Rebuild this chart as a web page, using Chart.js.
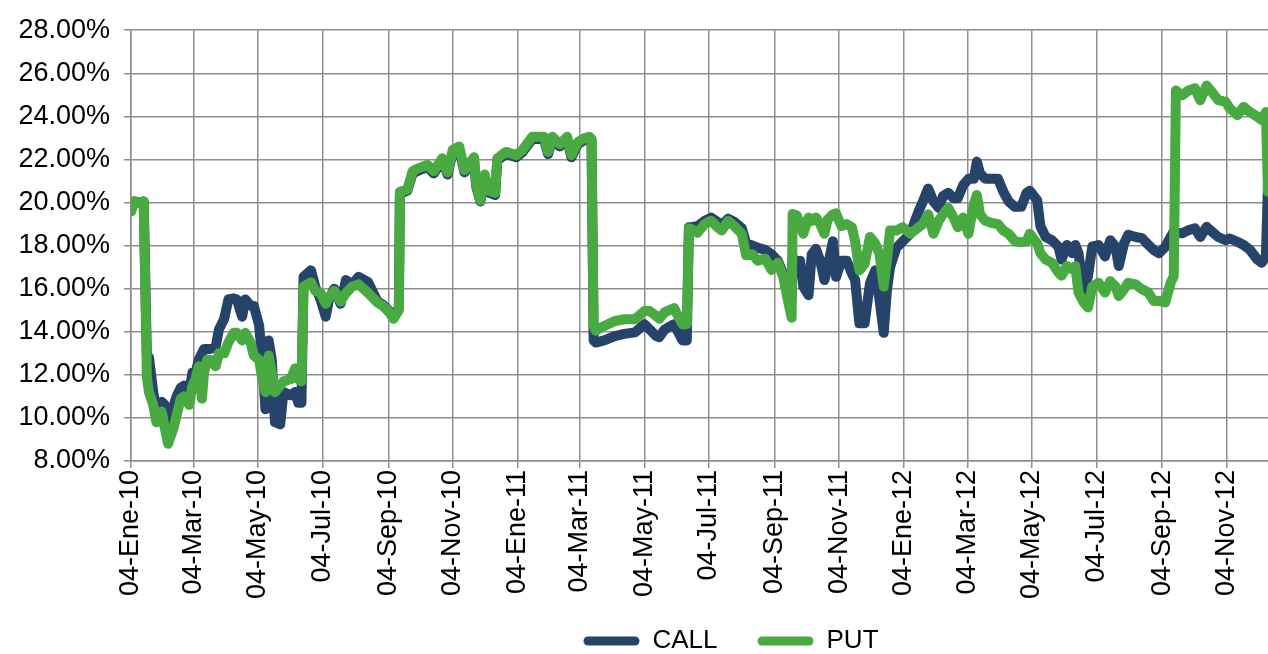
<!DOCTYPE html>
<html lang="es">
<head>
<meta charset="utf-8">
<title>CALL / PUT</title>
<script src="https://cdn.jsdelivr.net/npm/chart.js@4.4.1/dist/chart.umd.min.js"></script>
<style>
  html, body { margin: 0; padding: 0; background: #fff; }
  #grafico { display: block; }
</style>
</head>
<body>
<canvas id="grafico" width="1268" height="654"></canvas>
<script>
// ========================
// DATOS
// ========================
// días transcurridos desde el 04-Ene-10
const dias = [
  0, 3, 8, 12, 15, 17, 21, 24, 29, 32,
  35, 40, 43, 47, 50, 55, 58, 61, 64, 67,
  69, 72, 75, 80, 83, 88, 92, 97, 100, 105,
  108, 113, 116, 121, 124, 127, 130, 133, 136, 141,
  144, 151, 155, 158, 161, 163, 170, 174, 179, 184,
  187, 192, 198, 203, 209,
  215, 224, 233, 238, 244, 248, 253, 254, 261, 266,
  272, 280, 286, 294, 299, 304, 310, 315, 324, 326,
  330, 334, 338, 344, 346, 354, 364, 370, 379, 390,
  394, 398, 405, 412, 416, 422,
  428, 433, 435, 437, 439, 447, 457, 466, 476, 485,
  490, 496, 499, 504, 513, 517, 521, 525, 527, 529,
  535, 542, 548, 554, 558, 564, 570, 577, 581, 587,
  592, 599, 605, 611, 616, 621, 624, 625, 629,
  632, 635, 640, 643, 647, 651, 655, 658, 663, 666,
  671, 676, 681, 684, 688, 693, 698, 703, 707, 711,
  714, 717, 723, 729, 736, 744, 748, 753, 758, 763,
  767, 772, 777, 781, 786, 791, 796, 799, 802, 807,
  813, 819, 824, 829, 835, 841, 846,
  849, 856, 859, 864, 870, 876, 879, 884, 889, 892,
  895, 900, 904, 908, 914, 920, 925, 930, 933, 938,
  942, 949, 955, 961, 966, 971, 977, 982, 985, 987,
  993, 999, 1005, 1010, 1016, 1021, 1027, 1034, 1038, 1045,
  1051, 1057, 1064, 1068, 1072, 1074
];

// volatilidad CALL (%)
const volCall = [
  19.6, 20.05, 20.0, 20.05, 12.9, 12.8, 11.2, 10.3, 10.75, 10.6,
  9.1, 10.5, 11.0, 11.4, 11.5, 11.2, 12.1, 12.1, 12.7, 13.0,
  13.2, 13.2, 13.2, 13.3, 14.1, 14.6, 15.5, 15.55, 15.5, 14.7,
  15.5, 15.2, 15.2, 14.3, 12.7, 10.4, 13.6, 12.7, 9.8, 9.7,
  11.2, 11.05, 11.2, 10.7, 10.7, 16.55, 16.85, 16.1, 15.5, 14.7,
  15.5, 16.0, 15.3, 16.4, 16.2,
  16.55, 16.3, 15.4, 15.25, 14.95, 14.7, 15.1, 20.4, 20.55, 21.35,
  21.5, 21.65, 21.35, 21.95, 21.3, 22.35, 22.5, 21.4, 22.0, 20.75,
  20.05, 21.2, 20.45, 20.35, 21.95, 22.25, 22.1, 22.35, 22.95, 22.95,
  22.25, 22.95, 22.6, 22.95, 22.1, 22.7,
  22.9, 23.0, 22.9, 13.6, 13.5, 13.6, 13.8, 13.9, 13.97, 14.35,
  14.1, 13.8, 13.75, 14.1, 14.35, 13.97, 13.6, 13.6, 18.85, 18.85,
  18.9, 19.15, 19.3, 19.1, 18.95, 19.25, 19.1, 18.8, 18.1, 18.0,
  17.9, 17.8, 17.6, 17.3, 16.7, 16.4, 15.6, 17.5, 16.8,
  17.3, 16.1, 15.7, 17.6, 17.85, 17.3, 16.4, 17.0, 18.2, 16.55,
  17.3, 17.3, 16.7, 16.4, 14.4, 14.4, 16.25, 16.85, 15.5, 13.95,
  15.9, 17.0, 17.9, 18.2, 18.55, 19.6, 20.05, 20.65, 20.05, 19.75,
  20.3, 20.45, 20.2, 20.2, 20.8, 21.1, 21.1, 21.9, 21.35, 21.1,
  21.1, 21.1, 20.5, 20.05, 19.8, 19.8, 20.45,
  20.55, 20.1, 18.9, 18.4, 18.25, 17.95, 17.35, 18.03, 17.65, 18.03,
  17.65, 15.82, 16.6, 17.95, 18.03, 17.5, 18.25, 17.95, 17.05, 18.1,
  18.5, 18.4, 18.35, 18.03, 17.8, 17.65, 17.95, 18.4, 18.65, 18.6,
  18.57, 18.72, 18.8, 18.4, 18.87, 18.65, 18.4, 18.25, 18.33, 18.18,
  18.03, 17.8, 17.35, 17.2, 17.5, 20.9
];

// volatilidad PUT (%)
const volPut = [
  19.6, 20.05, 20.0, 20.05, 11.9, 11.2, 10.6, 9.8, 10.3, 9.5,
  8.8, 9.5, 10.1, 10.9, 11.0, 10.6, 11.5, 11.8, 12.4, 10.9,
  12.1, 12.7, 12.7, 12.4, 13.0, 13.0, 13.5, 13.95, 13.95, 13.6,
  13.95, 13.5, 12.9, 12.7, 11.8, 11.2, 12.9, 12.1, 11.2, 11.5,
  11.7, 11.8, 12.3, 11.8, 11.7, 16.1, 16.3, 15.9, 15.8, 15.3,
  15.6, 15.9, 15.4, 15.8, 16.1,
  16.2, 15.8, 15.35, 15.2, 14.9, 14.6, 15.0, 20.5, 20.6, 21.45,
  21.6, 21.75, 21.45, 22.05, 21.4, 22.45, 22.6, 21.5, 22.1, 20.85,
  20.1, 21.3, 20.55, 20.45, 22.05, 22.35, 22.2, 22.45, 23.05, 23.05,
  22.35, 23.05, 22.7, 23.05, 22.2, 22.8,
  22.98, 23.05, 22.95, 14.27, 14.05, 14.27, 14.5, 14.58, 14.58, 14.96,
  14.96, 14.73, 14.6, 14.9, 15.1, 14.7, 14.35, 14.35, 18.8, 18.78,
  18.6, 19.0, 19.15, 18.85, 18.7, 19.15, 18.9, 18.55, 17.55, 17.6,
  17.3, 17.4, 16.87, 17.2, 16.56, 15.35, 14.65, 19.47, 19.4,
  19.0, 18.55, 19.3, 19.15, 19.3, 19.0, 18.55, 19.2, 19.45, 19.5,
  18.9, 19.0, 18.85, 18.2, 16.85, 17.15, 18.4, 18.1, 17.6, 16.1,
  17.3, 18.7, 18.7, 18.85, 18.55, 18.85, 19.0, 19.45, 18.55, 19.15,
  19.45, 19.75, 19.3, 18.85, 19.3, 18.55, 19.9, 20.35, 19.45, 19.15,
  19.05, 19.0, 18.7, 18.55, 18.2, 18.15, 18.2,
  18.55, 18.1, 17.65, 17.35, 17.2, 16.75, 16.6, 17.05, 16.9, 17.05,
  15.82, 15.35, 15.13, 16.1, 16.27, 15.82, 16.35, 16.1, 15.66, 15.97,
  16.27, 16.2, 15.97, 15.82, 15.43, 15.43, 15.36, 16.27, 16.58, 25.2,
  24.98, 25.2, 25.3, 24.75, 25.43, 25.13, 24.75, 24.67, 24.37, 24.06,
  24.44, 24.2, 23.98, 23.83, 24.2, 20.5
];

// fechas del eje X (cada dos meses)
const diasEtiqueta = [0, 59, 120, 181, 243, 304, 365, 424, 485, 546, 608, 669, 730, 790, 851, 912, 974, 1035];
const etiquetas = [
  "04-Ene-10", "04-Mar-10", "04-May-10", "04-Jul-10", "04-Sep-10", "04-Nov-10",
  "04-Ene-11", "04-Mar-11", "04-May-11", "04-Jul-11", "04-Sep-11", "04-Nov-11",
  "04-Ene-12", "04-Mar-12", "04-May-12", "04-Jul-12", "04-Sep-12", "04-Nov-12"
];

if (volCall.length !== dias.length || volPut.length !== dias.length) {
  throw new Error("series de distinto largo: " + dias.length + " / " + volCall.length + " / " + volPut.length);
}

// ========================
// ESTILO
// ========================
const FUENTE = '"Liberation Sans", Arial, sans-serif';
const GRIS = "#8e8e8e";
const AZUL = "#264469";
const VERDE = "#4aaa42";
const GROSOR = 10;

const serie = valores => dias.map((d, i) => ({ x: d, y: valores[i] }));

// la leyenda va centrada bajo el área de datos y pegada al borde inferior
const moverLeyenda = {
  id: "moverLeyenda",
  afterLayout(chart) {
    const lg = chart.legend;
    lg.left += 97;
    lg.right += 97;
    lg.top = chart.height - 66;
    lg.bottom = chart.height;
  }
};

// ========================
// GRÁFICO
// ========================
const ctx = document.getElementById("grafico").getContext("2d");
new Chart(ctx, {
  type: "line",
  data: {
    datasets: [
      { label: "CALL", data: serie(volCall), borderColor: AZUL, backgroundColor: AZUL, borderWidth: GROSOR, order: 1 },
      { label: "PUT", data: serie(volPut), borderColor: VERDE, backgroundColor: VERDE, borderWidth: GROSOR, order: 0 }
    ]
  },
  options: {
    responsive: false,
    animation: false,
    devicePixelRatio: 1,
    layout: { padding: { top: 24, right: 0, bottom: 0, left: 0 } },
    elements: {
      line: { tension: 0, borderJoinStyle: "round", borderCapStyle: "round" },
      point: { radius: 0, hoverRadius: 0 }
    },
    scales: {
      x: {
        type: "linear",
        min: 0,
        max: 1074,
        // alto suficiente para que las fechas giradas no se recorten
        afterFit: s => { s.height = 150; },
        afterBuildTicks: s => { s.ticks = diasEtiqueta.map(v => ({ value: v })); },
        ticks: {
          autoSkip: false,
          minRotation: 90,
          maxRotation: 90,
          padding: 2,
          color: "#000",
          font: { family: FUENTE, size: 27 },
          callback: (v, i) => etiquetas[i]
        },
        grid: { color: GRIS, lineWidth: 1.5, tickLength: 7 },
        border: { color: GRIS, width: 1.5 }
      },
      y: {
        min: 8,
        max: 28,
        afterFit: s => { s.width = 131; },
        ticks: {
          stepSize: 2,
          padding: 14,
          color: "#000",
          font: { family: FUENTE, size: 27 },
          callback: v => v.toFixed(2) + "%"
        },
        grid: { color: GRIS, lineWidth: 1.5, tickLength: 7 },
        border: { color: GRIS, width: 1.5 }
      }
    },
    plugins: {
      legend: {
        position: "bottom",
        maxHeight: 43,
        labels: {
          boxWidth: 56,
          boxHeight: 9,
          padding: 40,
          useBorderRadius: true,
          borderRadius: 4.5,
          color: "#000",
          font: { family: FUENTE, size: 26 },
          sort: (a, b) => a.datasetIndex - b.datasetIndex,
          generateLabels: chart =>
            Chart.defaults.plugins.legend.labels.generateLabels(chart).map(it => ({ ...it, lineWidth: 0 }))
        }
      },
      tooltip: { enabled: false }
    }
  },
  plugins: [moverLeyenda]
});
</script>
</body>
</html>
